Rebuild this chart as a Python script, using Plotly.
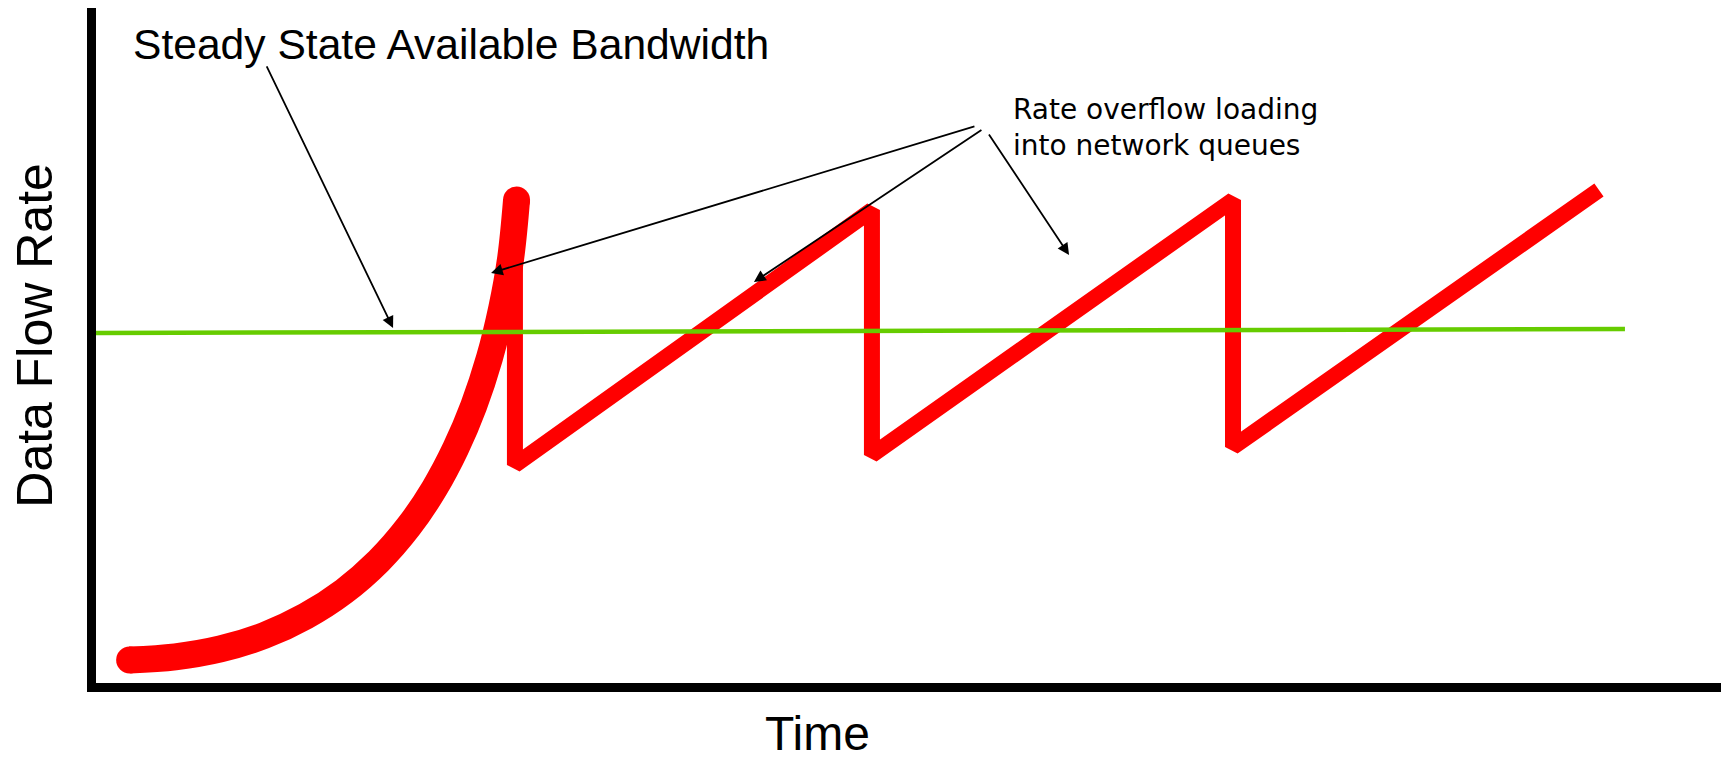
import plotly.graph_objects as go

# ---- data (abstract units: time 0-100, data flow rate 0-100) ----
curve_time = [2.07, 4.88, 7.66, 10.35, 12.90, 15.27, 17.39, 19.24, 20.82, 22.14, 23.24, 24.22, 24.97, 25.52, 25.88]
curve_rate = [3.41, 3.88, 5.05, 7.04, 9.91, 13.60, 18.06, 23.17, 28.80, 34.79, 41.04, 48.22, 55.56, 62.99, 71.56]

saw_time = [25.78, 25.78, 47.75, 47.75, 69.97, 69.97, 92.49]
saw_rate = [70.81, 32.30, 70.07, 33.78, 71.56, 34.96, 73.04]

bw_time = [0.0, 94.09]
bw_rate = [51.85, 52.44]

# arrows: (tip_time, tip_rate, tail_time, tail_rate)
bw_arrow = [(18.28, 52.59, 10.46, 91.56)]
overflow_arrows = [
    (24.31, 60.74, 54.15, 82.52),
    (40.49, 59.41, 54.58, 82.07),
    (59.88, 63.41, 54.89, 81.48),
]

RED = "#FF0000"
GREEN = "#66CC00"

fig = go.Figure()

# slow-start exponential curve
fig.add_trace(go.Scatter(x=curve_time, y=curve_rate, mode="lines",
                         line=dict(color=RED, width=27, shape="spline", smoothing=1.0),
                         hoverinfo="skip"))
# round caps on the curve ends
fig.add_trace(go.Scatter(x=[curve_time[0], curve_time[-1]], y=[curve_rate[0], curve_rate[-1]],
                         mode="markers", marker=dict(color=RED, size=27, line=dict(width=0)),
                         hoverinfo="skip"))
# sawtooth
fig.add_trace(go.Scatter(x=saw_time, y=saw_rate, mode="lines",
                         line=dict(color=RED, width=16), hoverinfo="skip"))
# steady state bandwidth line
fig.add_trace(go.Scatter(x=bw_time, y=bw_rate, mode="lines",
                         line=dict(color=GREEN, width=4.5), hoverinfo="skip"))

annotations = []
for tx, ty, ax, ay in bw_arrow + overflow_arrows:
    annotations.append(dict(x=tx, y=ty, ax=ax, ay=ay, xref="x", yref="y",
                            axref="x", ayref="y", text="", showarrow=True,
                            arrowhead=2, arrowsize=1.3, arrowwidth=1.8,
                            arrowcolor="black", standoff=0, startstandoff=0))

annotations += [
    dict(text="Steady State Available Bandwidth", xref="paper", yref="paper",
         x=0.0215, y=0.9474, xanchor="left", yanchor="middle", showarrow=False,
         font=dict(family="Liberation Sans, Arial, sans-serif", size=42.6, color="black")),
    dict(text="Rate overflow loading<br>into network queues", xref="paper", yref="paper",
         x=0.5631, y=0.8237, xanchor="left", yanchor="middle", align="left", showarrow=False,
         font=dict(family="DejaVu Sans, Verdana, sans-serif", size=28, color="black")),
    dict(text="Data Flow Rate", xref="paper", yref="paper", textangle=-90,
         x=-0.0377, y=0.5156, xanchor="center", yanchor="middle", showarrow=False,
         font=dict(family="Liberation Sans, Arial, sans-serif", size=50, color="black")),
    dict(text="Time", xref="paper", yref="paper",
         x=0.4443, y=-0.0741, xanchor="center", yanchor="middle", showarrow=False,
         font=dict(family="Liberation Sans, Arial, sans-serif", size=48, color="black")),
]

fig.update_layout(
    width=1722, height=760,
    margin=dict(l=96, r=1, t=8, b=77),
    paper_bgcolor="white", plot_bgcolor="white",
    showlegend=False,
    annotations=annotations,
    xaxis=dict(range=[0, 100], showline=True, linewidth=9, linecolor="black",
               showgrid=False, zeroline=False, showticklabels=False, ticks="",
               fixedrange=True),
    yaxis=dict(range=[0, 100], showline=True, linewidth=9, linecolor="black",
               showgrid=False, zeroline=False, showticklabels=False, ticks="",
               fixedrange=True),
)

fig.write_html("out.html", config={"displayModeBar": False},
               post_script="document.body.style.margin='0';document.body.style.overflow='hidden';")
